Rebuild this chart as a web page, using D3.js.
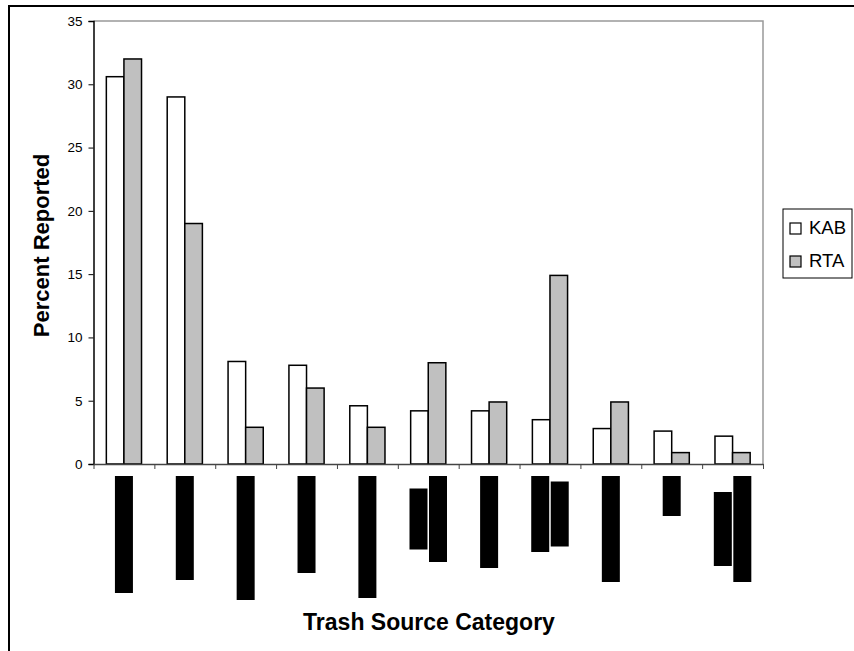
<!DOCTYPE html>
<html>
<head>
<meta charset="utf-8">
<script src="https://cdn.jsdelivr.net/npm/d3@7"></script>
<style>
  body { margin: 0; background: #fff; }
  svg { display: block; font-family: Arial, "Liberation Sans", sans-serif; }
</style>
</head>
<body>
<script>
const categories = ["1", "2", "3", "4", "5", "6", "7", "8", "9", "10", "11"];
const seriesKeys = ["KAB", "RTA"];
const kab = [30.6, 29.0, 8.1, 7.8, 4.6, 4.2, 4.2, 3.5, 2.8, 2.6, 2.2];
const rta = [32, 19, 2.9, 6.0, 2.9, 8.0, 4.9, 14.9, 4.9, 0.9, 0.9];
const yTicks = [0, 5, 10, 15, 20, 25, 30, 35];
// category labels are blacked out in the source; lengths of each redacted line
const redactedLines = [[117], [104], [124], [97], [122], [61, 86], [92], [76, 65], [106], [40], [74, 106]];

const width = 854, height = 651;
const plot = { left: 93.5, right: 763, top: 21, bottom: 464 };
const colors = { KAB: "#ffffff", RTA: "#c0c0c0" };
const font = "Arial, 'Liberation Sans', sans-serif";

const svg = d3.select("body").append("svg")
    .attr("width", width)
    .attr("height", height);

// outer frame
svg.append("rect")
    .attr("x", 9).attr("y", 6)
    .attr("width", 860).attr("height", 660)
    .attr("fill", "none").attr("stroke", "#000").attr("stroke-width", 2);

const x0 = d3.scaleBand()
    .domain(categories)
    .range([plot.left, plot.right])
    .padding(0);

const x1 = d3.scaleBand()
    .domain(seriesKeys)
    .range([0, x0.bandwidth()])
    .paddingInner(0)
    .paddingOuter(0.73);

const y = d3.scaleLinear()
    .domain([0, 35])
    .range([plot.bottom, plot.top]);

// plot area border (top and right, gray)
svg.append("path")
    .attr("d", `M${plot.left},${plot.top}H${plot.right}V${plot.bottom}`)
    .attr("fill", "none").attr("stroke", "#999").attr("stroke-width", 1.5);

const rows = categories.map((c, i) => ({ cat: c, KAB: kab[i], RTA: rta[i] }));

svg.append("g")
    .selectAll("g")
    .data(rows)
    .join("g")
    .attr("transform", d => `translate(${x0(d.cat)},0)`)
    .selectAll("rect")
    .data(d => seriesKeys.map(k => ({ key: k, value: d[k] })))
    .join("rect")
    .attr("x", d => x1(d.key))
    .attr("y", d => y(d.value))
    .attr("width", x1.bandwidth())
    .attr("height", d => y(0) - y(d.value))
    .attr("fill", d => colors[d.key])
    .attr("stroke", "#000")
    .attr("stroke-width", 1.5);

// y axis
const yAxis = svg.append("g")
    .attr("transform", `translate(${plot.left},0)`)
    .call(d3.axisLeft(y).tickValues(yTicks).tickSize(5).tickPadding(6));
yAxis.select(".domain").attr("stroke", "#000").attr("stroke-width", 1.5);
yAxis.selectAll(".tick line").attr("stroke", "#000");
yAxis.selectAll("text")
    .attr("font-size", 13.5)
    .attr("font-family", font)
    .attr("fill", "#000");

// x axis, ticks on category boundaries
const xEdges = d3.scaleLinear().domain([0, categories.length]).range([plot.left, plot.right]);
const xAxis = svg.append("g")
    .attr("transform", `translate(0,${plot.bottom})`)
    .call(d3.axisBottom(xEdges)
        .tickValues(d3.range(0, categories.length + 1))
        .tickSize(5)
        .tickSizeOuter(0)
        .tickFormat(""));
xAxis.select(".domain").attr("stroke", "#444").attr("stroke-width", 1.5);
xAxis.selectAll(".tick line").attr("stroke", "#444");

// redacted category labels
const labelTop = 476, lineW = 18, linePitch = 19.5;
svg.append("g")
    .selectAll("g")
    .data(redactedLines)
    .join("g")
    .each(function (lines, i) {
        const cx = x0(categories[i]) + x0.bandwidth() / 2;
        const maxLen = d3.max(lines);
        d3.select(this).selectAll("rect")
            .data(lines)
            .join("rect")
            .attr("x", (len, j) => cx - lines.length * linePitch / 2 + j * linePitch + (linePitch - lineW) / 2)
            .attr("y", len => labelTop + (maxLen - len) / 2)
            .attr("width", lineW)
            .attr("height", len => len)
            .attr("fill", "#000");
    });

// axis titles
svg.append("text")
    .attr("x", 429)
    .attr("y", 630)
    .attr("text-anchor", "middle")
    .attr("font-family", font)
    .attr("font-size", 23)
    .attr("font-weight", "bold")
    .text("Trash Source Category");

svg.append("text")
    .attr("transform", `translate(48.5,${(plot.top + plot.bottom) / 2 + 3}) rotate(-90)`)
    .attr("text-anchor", "middle")
    .attr("font-family", font)
    .attr("font-size", 22)
    .attr("font-weight", "bold")
    .text("Percent Reported");

// legend
const legend = svg.append("g").attr("transform", "translate(783,209)");
legend.append("rect")
    .attr("width", 69).attr("height", 69)
    .attr("fill", "#fff").attr("stroke", "#000").attr("stroke-width", 1);
const items = legend.selectAll("g.item")
    .data(seriesKeys)
    .join("g")
    .attr("class", "item")
    .attr("transform", (d, i) => `translate(7,${14 + i * 33})`);
items.append("rect")
    .attr("width", 11).attr("height", 11)
    .attr("fill", d => colors[d])
    .attr("stroke", "#000").attr("stroke-width", 1.2);
items.append("text")
    .attr("x", 19).attr("y", 10.5)
    .attr("font-family", font)
    .attr("font-size", 18.5)
    .text(d => d);
</script>
</body>
</html>
